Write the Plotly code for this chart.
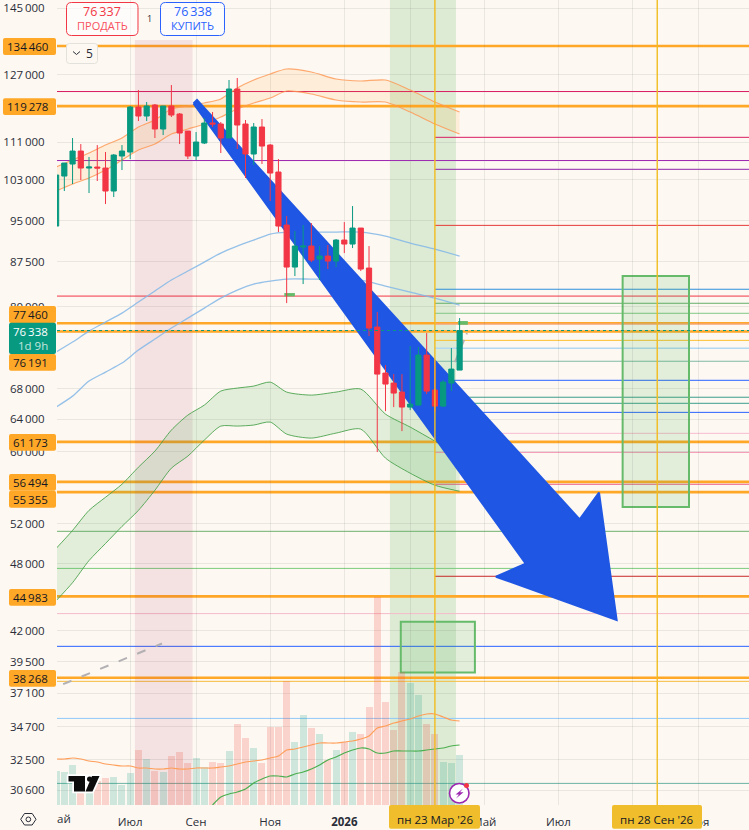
import math
import pandas as pd
import plotly.graph_objects as go

# Weekly BTC candles
first_week = "2025-05-05"
opens = [93970,103800,106310,109090,105466,105675,105466,100750,108015,108880,119075,116960,119550,113975,119310,117428,113523,108015,110844,115344,115115,111953,123416,115115,108445,114430,110400,104630,94160,86610,90125,90305,88000,88525,87650,91390,90665,93598,86437,76865,70141,68760,67540,65555,65815,72700,67810,65685,68760,70560]
highs = [104200,106520,111953,110620,107800,110400,108880,108445,110400,119310,123170,120266,119787,119310,124400,117662,113523,113296,116497,117895,115574,125646,126148,116035,115344,116266,110620,107370,95860,93040,94160,94534,90305,90485,91570,94720,97785,93598,90305,79190,71265,70000,70000,74010,73865,75952,71980,69170,73718,78252]
lows = [93900,100750,102160,102980,100348,102775,98175,99553,105047,107370,115805,115805,111953,112620,116730,110620,107370,107160,110620,114430,108661,111953,109530,103388,106100,106310,98760,92850,80623,85070,83730,87475,84400,86265,86610,89056,89946,85925,75500,59940,65030,65555,62495,65165,65815,67270,64905,65555,67675,70560]
closes = [104009,106520,109090,105466,105675,105466,100750,108230,109090,119075,116960,119310,113975,119310,117195,113071,108015,111065,115344,115115,111953,123416,114886,108445,114430,110180,104422,93970,86610,90305,90305,87825,88525,87650,91390,90665,93598,86265,76711,70000,68625,67405,65555,65945,72700,67675,65685,68895,70700,76338]

# Volume pane, shared with the price area
volumes = [34,33,40,12,12,24,27,28,20,32,55,46,34,33,49,53,42,47,38,43,42,54,81,67,57,42,78,78,124,63,90,77,71,45,55,63,73,71,98,208,103,75,133,122,110,81,71,43,42,50]
volume_ma_fast = [46,46,47,46,44,43,41,40,39,39,37,37,36,36,37,36,36,37,37,37,38,39,41,43,44,45,47,49,55,56,58,60,62,62,62,63,64,66,69,77,79,82,84,86,89,91,91,88,85,84]
volume_ma_slow = [None]*19 + [0,8,11,13,16,22,26,29,29,28,31,33,36,40,45,48,52,55,57,56,52,52,54,54,54,54,55,56,57,59,60]

# Channel bands, sampled at these candle numbers
band_index = [0,2,4,6,8,10,12,14,16,18,20,22,24,26,28,31,34,37,40,43,46,49]
orange_upper = [105675,107160,108661,110400,111953,114430,116035,118600,119310,120027,120985,123663,125646,127165,128430,127670,125897,125395,125646,123170,120266,117895]
orange_lower = [100750,102160,103388,105047,107160,109310,110620,112845,113975,115115,116730,118600,120027,121227,122925,122195,120745,120266,120266,117895,115115,112845]
blue_upper = [73135,74605,76255,77632,79035,80785,82570,84400,85925,87475,89056,90305,91390,92487,92855,92855,92855,92855,92120,90846,89767,88525]
blue_lower = [65555,67000,69035,70280,71551,73425,75050,76711,78252,79825,81429,82735,83730,84230,84565,84565,84565,84400,83395,82405,81429,80300]
green_upper = [49478,51292,53380,54787,56228,58170,60060,62622,64520,65815,67675,68079,68350,68895,67540,67135,67540,67945,64645,62997,61267,59583]
green_lower = [44597,46230,48307,49975,51702,53380,55558,58054,59463,61388,63123,63123,63250,63630,62125,61633,62249,62745,59226,57477,56115,55448]

# Price levels
level_prices = [134460,119278,77460,76191,61173,56494,55355,44983,38268]
full_lines = [(122800,"#D81B60"),(107050,"#9C27B0"),(81750,"#F23645"),(51200,"#6FB16F"),(47560,"#7CCB7C"),(43470,"#F4BBCB"),(40730,"#2962FF"),(37990,"#F5BC3E"),(35290,"#90CAF9"),(31010,"#6DB3A3")]
cursor_lines = [(112110,"#D81B60"),(105200,"#8E24AA"),(94100,"#E53935"),(82870,"#2E8FDC"),(80590,"#66AE68"),(79000,"#81C784"),(74860,"#FBC02D"),(73690,"#B3D8F2"),(71810,"#7FB8A5"),(69140,"#2962FF"),(66850,"#3B9E8C"),(66050,"#3B9E8C"),(64870,"#2962FF"),(62220,"#F8BBD0"),(59910,"#F48FB1"),(56220,"#EC5F8B"),(46820,"#C62828"),(77330,"#F4A59B")]
last_price = 76338

# Forecast arrow
arrow_dates = ["2025-08-29 19:00","2025-09-01 19:00","2026-07-24 02:00","2026-08-09 12:00","2026-08-24 12:00","2026-05-13 22:00","2026-06-08 05:00","2025-08-29 19:00"]
arrow_prices = [119905,120745,52430,55300,42920,46780,48018,119905]
# Trend line pieces
trend_a_dates, trend_a_prices = ["2025-05-11","2025-08-03"], [37780,40960]
trend_b_dates, trend_b_prices = ["2026-04-09","2026-04-19 08:00"], [71690,75952]

# The March and September gridlines sit under the date tags, so they carry no label of their own
x_ticks = ["2025-07-07","2025-09-01","2025-11-03","2026-01-05","2026-03-02","2026-05-04","2026-07-06","2026-09-07","2026-11-02"]
x_labels = ["Июл","Сен","Ноя","<b>2026</b>","","Май","Июл","","Ноя"]
y_ticks = [145000,127000,111000,103000,95000,87500,80000,68000,64000,60000,52000,48000,42000,39500,37100,34700,32500,30600]
mar_cursor, sep_cursor = "2026-03-23", "2026-09-28"

# Layout constants
W, H, LEFT, BOTTOM = 749, 830, 57, 25
BG, TXT = "#FDF8F2", "#2A2E39"
FONT = "Open Sans"
UP, DOWN = "#089981", "#F23645"
ORANGE = "#FFA726"
X_RANGE = ["2025-05-05 18:30", "2026-12-15"]
Y_RANGE = [math.log10(29706), math.log10(147325)]
DAY = 86400000

weeks = pd.date_range(first_week, periods=len(opens), freq="7D")
band_dates = [weeks[i] for i in band_index]


def px(x):
    return (x - LEFT) / (W - LEFT)


def py(y):
    return 1 - y / (H - BOTTOM)


def rounded(x0, y0, x1, y1, r):
    pts = [("M", x0 + r, y0), ("L", x1 - r, y0), ("Q", x1, y0, x1, y0 + r), ("L", x1, y1 - r), ("Q", x1, y1, x1 - r, y1),
           ("L", x0 + r, y1), ("Q", x0, y1, x0, y1 - r), ("L", x0, y0 + r), ("Q", x0, y0, x0 + r, y0)]
    out = []
    for p in pts:
        coords = p[1:]
        pairs = [f"{px(coords[k]):.5f},{py(coords[k + 1]):.5f}" for k in range(0, len(coords), 2)]
        out.append(p[0] + " ".join(pairs))
    return " ".join(out) + " Z"


def poly(points):
    return "M" + " L".join(f"{px(a):.5f},{py(b):.5f}" for a, b in points) + " Z"


def grp(v):
    s = f"{v:,}"
    return s.replace(",", "\u2009")


fig = go.Figure()

# Channels on the base axes, below the volume and the candles
for up, low, col, fill, lw in [
    (orange_upper, orange_lower, "rgba(255,150,80,.8)", "rgba(255,152,0,.10)", 1.2),
    (green_upper, green_lower, "rgba(67,160,71,.85)", "rgba(76,175,80,.15)", 1),
]:
    fig.add_trace(go.Scatter(x=band_dates, y=up, mode="lines", line=dict(color=col, width=lw, shape="spline", smoothing=0.7)))
    fig.add_trace(go.Scatter(x=band_dates, y=low, mode="lines", line=dict(color=col, width=lw, shape="spline", smoothing=0.7), fill="tonexty", fillcolor=fill))
for series in (blue_upper, blue_lower):
    fig.add_trace(go.Scatter(x=band_dates, y=series, mode="lines", line=dict(color="rgba(130,183,232,.85)", width=1.3, shape="spline", smoothing=0.7)))

fig.add_trace(go.Scatter(x=trend_a_dates, y=trend_a_prices, mode="lines", line=dict(color="#B3B0B3", width=2, dash="9px,11px")))
fig.add_trace(go.Scatter(x=trend_b_dates, y=trend_b_prices, mode="lines", line=dict(color="#B3B0B3", width=2, dash="9px,6px")))
fig.add_trace(go.Scatter(x=arrow_dates, y=arrow_prices, mode="lines", fill="toself", fillcolor="#1F56E3", line=dict(color="#1F56E3", width=2)))

# Volume
fig.add_trace(go.Bar(
    x=weeks, y=volumes, yaxis="y2", width=5.95 * DAY,
    marker=dict(color=["rgba(8,153,129,.19)" if c >= o else "rgba(239,83,70,.22)" for o, c in zip(opens, closes)], line=dict(width=0)),
))
fig.add_trace(go.Scatter(x=weeks, y=volume_ma_fast, yaxis="y2", mode="lines", line=dict(color="#FF9E59", width=1.2, shape="spline", smoothing=0.7)))
fig.add_trace(go.Scatter(x=weeks, y=volume_ma_slow, yaxis="y2", mode="lines", line=dict(color="#4CAF50", width=1.2, shape="spline", smoothing=0.7)))

# Candles
fig.add_trace(go.Candlestick(
    x=weeks, open=opens, high=highs, low=lows, close=closes, yaxis="y3", whiskerwidth=0,
    increasing=dict(line=dict(color=UP, width=1), fillcolor=UP),
    decreasing=dict(line=dict(color=DOWN, width=1), fillcolor=DOWN),
))

shapes = [
    dict(type="rect", xref="x", yref="y", x0="2025-07-11", x1="2025-08-29", y0=29706, y1=136060, layer="below", line_width=0, fillcolor="rgba(156,39,80,.10)"),
    dict(type="rect", xref="x", yref="paper", x0="2026-02-12 19:00", x1="2026-04-09 22:00", y0=0, y1=1, layer="below", line_width=0, fillcolor="rgba(76,175,80,.18)"),
]
for price, col in full_lines:
    shapes.append(dict(type="line", xref="paper", yref="y", x0=0, x1=1, y0=price, y1=price, layer="below", line=dict(color=col, width=1)))
for price, col in cursor_lines:
    w = 1.6 if col == "#B3D8F2" else 1
    shapes.append(dict(type="line", xref="x", yref="y", x0=mar_cursor, x1=X_RANGE[1], y0=price, y1=price, layer="below", line=dict(color=col, width=w)))
for price in level_prices:
    shapes.insert(2 + len(full_lines), dict(type="line", xref="paper", yref="y", x0=0, x1=1, y0=price, y1=price, layer="below", line=dict(color=ORANGE, width=2.6)))
for x0, x1, y0, y1 in [("2026-02-22", "2026-04-26", 38670, 42770), ("2026-08-29 14:00", "2026-10-25", 53730, 85070)]:
    shapes.append(dict(type="rect", xref="x", yref="y", x0=x0, x1=x1, y0=y0, y1=y1, layer="below", fillcolor="rgba(76,175,80,.15)", line=dict(color="#66BB6A", width=2)))
for x0, x1, y0, y1 in [("2025-11-15", "2025-11-24", 81700, 82243), ("2026-04-11 14:00", "2026-04-20", 77215, 77785)]:
    shapes.append(dict(type="rect", xref="x", yref="y", x0=x0, x1=x1, y0=y0, y1=y1, layer="below", fillcolor="#66BB6A", line_width=0))
for d in (mar_cursor, sep_cursor):
    shapes.append(dict(type="line", xref="x", yref="paper", x0=d, x1=d, y0=0, y1=1, line=dict(color="#F3BC1F", width=1.4)))
shapes.append(dict(type="line", xref="paper", yref="y", x0=0, x1=1, y0=last_price, y1=last_price, line=dict(color=UP, width=1, dash="dot")))

# Price tags on the scale
tags = [(134460, 3, 38, 55), (119278, 3, 98.3, 115), (77460, 9, 306, 323), (76191, 9, 354, 370.7),
        (61173, 9, 434, 450.7), (56494, 9, 474, 490.7), (55355, 9, 490.7, 507.7), (44983, 9, 589, 605.7), (38268, 9, 670, 686.7)]
annots = []
for value, x0, y0, y1 in tags:
    shapes.append(dict(type="path", xref="paper", yref="paper", path=rounded(x0, y0, 56, y1, 2), fillcolor=ORANGE, line_width=0))
    annots.append((48, (y0 + y1) / 2, grp(value), "#131722", 11.5, "right"))
shapes.append(dict(type="path", xref="paper", yref="paper", path=rounded(9, 322.7, 56, 354, 2), fillcolor=UP, line_width=0))
annots.append((48, 331.5, grp(last_price), "#FFFFFF", 11.5, "right"))
annots.append((48, 345.5, "1d 9h", "#C2E6DE", 11.5, "right"))

# Date tags under the plot
for x0, x1, text in [(389, 480, "пн 23 Мар '26"), (612, 702, "пн 28 Сен '26")]:
    shapes.append(dict(type="path", xref="paper", yref="paper", path=rounded(x0, 805, x1, 828.7, 2), fillcolor="#F0BE2D", line_width=0))
    annots.append(((x0 + x1) / 2, 819.5, text, "#131722", 11.5, "center"))
annots.append((57, 819, "ай", TXT, 11.5, "left"))

# Trade buttons and the collapse control
shapes.append(dict(type="path", xref="paper", yref="paper", path=rounded(66.5, 2.5, 138, 35.5, 5), fillcolor="rgba(255,255,255,.6)", line=dict(color="#F23645", width=1)))
shapes.append(dict(type="path", xref="paper", yref="paper", path=rounded(160.5, 2.5, 224.5, 35.5, 5), fillcolor="rgba(255,255,255,.6)", line=dict(color="#2962FF", width=1)))
shapes.append(dict(type="path", xref="paper", yref="paper", path=rounded(66.5, 43.5, 97.5, 63.5, 3), fillcolor=BG, line=dict(color="#E3E1DB", width=1)))
shapes.append(dict(type="path", xref="paper", yref="paper", path=f"M{px(73):.5f},{py(51.5):.5f} L{px(76.5):.5f},{py(54.5):.5f} L{px(80):.5f},{py(51.5):.5f}", line=dict(color="#2A2E39", width=1)))
annots += [(102, 12, "76\u2009337", "#F23645", 12.5, "center"), (102, 26, "ПРОДАТЬ", "#F7525F", 11, "center"),
           (192.5, 12, "76\u2009338", "#2962FF", 12.5, "center"), (192.5, 26, "КУПИТЬ", "#2962FF", 11, "center"),
           (149, 18.5, "1", TXT, 9, "center"), (89.5, 53.5, "5", TXT, 12, "center")]

# Watermark logo
logo_parts = [[(68.5, 776), (85, 776), (85, 791.5), (74, 791.5), (74, 781.5), (68.5, 781.5)],
              [(92, 776), (99.5, 776), (92.5, 791.5), (85.5, 791.5)]]
for part in logo_parts:
    shapes.append(dict(type="path", xref="paper", yref="paper", path=poly(part), fillcolor="#FFFFFF", line=dict(color="#FFFFFF", width=3.5)))
shapes.append(dict(type="circle", xref="paper", yref="paper", x0=px(86), x1=px(93), y0=py(775.5), y1=py(782.5), fillcolor="#FFFFFF", line=dict(color="#FFFFFF", width=2)))
for part in logo_parts:
    shapes.append(dict(type="path", xref="paper", yref="paper", path=poly(part), fillcolor="#0C0C0C", line_width=0))
shapes.append(dict(type="circle", xref="paper", yref="paper", x0=px(87), x1=px(92.2), y0=py(776.5), y1=py(781.7), fillcolor="#0C0C0C", line_width=0))

# Alert badge
shapes.append(dict(type="circle", xref="paper", yref="paper", x0=px(449.5), x1=px(469), y0=py(783.5), y1=py(803), fillcolor="#FFFFFF", line=dict(color="#9C27B0", width=1.6)))
shapes.append(dict(type="path", xref="paper", yref="paper", path=poly([(463, 788.5), (455.5, 794.5), (459, 794.5), (456, 798.5), (463.5, 792.3), (460, 792.3)]), fillcolor="#9C27B0", line_width=0))
shapes.append(dict(type="circle", xref="paper", yref="paper", x0=px(464), x1=px(469), y0=py(783), y1=py(788), fillcolor="#F23645", line_width=0))

# Settings hexagon
shapes.append(dict(type="path", xref="paper", yref="paper", path=poly([(20.7, 819.3), (24.5, 813.5), (32.2, 813.5), (36, 819.3), (32.2, 825), (24.5, 825)]), line=dict(color="#2A2E39", width=1)))
shapes.append(dict(type="circle", xref="paper", yref="paper", x0=px(26), x1=px(30.7), y0=py(817), y1=py(821.7), line=dict(color="#2A2E39", width=1)))

annotations = [
    dict(xref="paper", yref="paper", x=px(x), y=py(y), text=t, showarrow=False, xanchor=a, yanchor="middle",
         font=dict(family=FONT, size=s, color=c), borderpad=0, borderwidth=0)
    for x, y, t, c, s, a in annots
]

fig.update_layout(
    width=W, height=H, autosize=False, showlegend=False, hovermode=False,
    margin=dict(l=LEFT, r=0, t=0, b=BOTTOM, pad=0),
    paper_bgcolor=BG, plot_bgcolor=BG, bargap=0, boxgap=0.37, boxgroupgap=0,
    font=dict(family=FONT, size=11.5, color=TXT),
    shapes=shapes, annotations=annotations,
    xaxis=dict(type="date", range=X_RANGE, rangeslider=dict(visible=False), tickmode="array", tickvals=x_ticks, ticktext=x_labels,
               showgrid=True, gridcolor="rgba(110,110,110,.13)", gridwidth=1, zeroline=False, showline=False,
               ticks="outside", ticklen=6, tickcolor="rgba(0,0,0,0)", tickfont=dict(family=FONT, size=11.5, color=TXT)),
    yaxis=dict(type="log", range=Y_RANGE, tickmode="array", tickvals=y_ticks, ticktext=[grp(v) for v in y_ticks],
               showgrid=True, gridcolor="rgba(110,110,110,.13)", gridwidth=1, zeroline=False, showline=False,
               ticks="outside", ticklen=9, tickcolor="rgba(0,0,0,0)", tickfont=dict(family=FONT, size=11.5, color=TXT)),
    yaxis2=dict(overlaying="y", range=[0, 805], visible=False),
    yaxis3=dict(overlaying="y", type="log", range=Y_RANGE, visible=False),
)

fig.write_html("out.html")
